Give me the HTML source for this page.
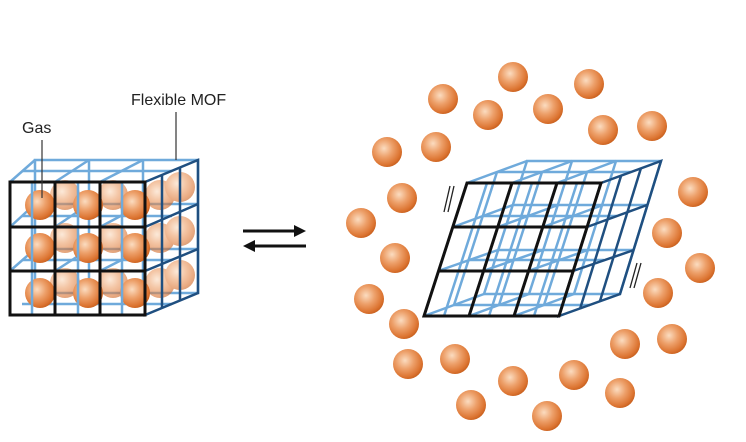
<!DOCTYPE html>
<html><head><meta charset="utf-8"><style>
html,body{margin:0;padding:0;background:#fff;width:746px;height:442px;overflow:hidden}
svg{display:block}
text{font-family:"Liberation Sans",sans-serif;font-size:16px;fill:#222}
</style></head><body>
<svg width="746" height="442" viewBox="0 0 746 442" xmlns="http://www.w3.org/2000/svg">
<defs>
<radialGradient id="g" cx="0.4" cy="0.38" r="0.65">
<stop offset="0" stop-color="#fbdcc0"/>
<stop offset="0.45" stop-color="#eda06a"/>
<stop offset="0.85" stop-color="#dc7431"/>
<stop offset="1" stop-color="#c9611f"/>
</radialGradient>
<symbol id="s" viewBox="-15 -15 30 30" overflow="visible"><circle r="15" fill="url(#g)"/></symbol>
</defs>

<!-- LEFT CUBE -->
<g fill="none" stroke="#6faadb" stroke-width="2.5">
  <rect x="35" y="160" width="163" height="133"/>
  <line x1="89" y1="160" x2="89" y2="293"/><line x1="143" y1="160" x2="143" y2="293"/>
  <line x1="35" y1="204" x2="198" y2="204"/><line x1="35" y1="249" x2="198" y2="249"/>
  <line x1="10" y1="182" x2="35" y2="160"/><line x1="55" y1="182" x2="89" y2="160"/><line x1="100" y1="182" x2="143" y2="160"/>
  <line x1="22" y1="171" x2="172" y2="171"/>
  <line x1="10" y1="227" x2="35" y2="204"/><line x1="55" y1="227" x2="89" y2="204"/><line x1="100" y1="227" x2="143" y2="204"/>
  <line x1="22" y1="216" x2="172" y2="216"/>
  <line x1="10" y1="271" x2="35" y2="249"/><line x1="55" y1="271" x2="89" y2="249"/><line x1="100" y1="271" x2="143" y2="249"/>
  <line x1="22" y1="260" x2="172" y2="260"/>
  <line x1="22" y1="304" x2="172" y2="304"/>
</g>
<g opacity="0.6">
<use href="#s" x="50" y="180" width="30" height="30"/><use href="#s" x="98" y="180" width="30" height="30"/><use href="#s" x="145" y="180" width="30" height="30"/>
<use href="#s" x="50" y="223" width="30" height="30"/><use href="#s" x="98" y="223" width="30" height="30"/><use href="#s" x="145" y="223" width="30" height="30"/>
<use href="#s" x="50" y="268" width="30" height="30"/><use href="#s" x="98" y="268" width="30" height="30"/><use href="#s" x="145" y="268" width="30" height="30"/>
<use href="#s" x="165" y="172" width="30" height="30"/><use href="#s" x="165" y="216" width="30" height="30"/><use href="#s" x="165" y="260" width="30" height="30"/>
</g>
<g>
<use href="#s" x="25" y="190" width="30" height="30"/><use href="#s" x="73" y="190" width="30" height="30"/><use href="#s" x="120" y="190" width="30" height="30"/>
<use href="#s" x="25" y="233" width="30" height="30"/><use href="#s" x="73" y="233" width="30" height="30"/><use href="#s" x="120" y="233" width="30" height="30"/>
<use href="#s" x="25" y="278" width="30" height="30"/><use href="#s" x="73" y="278" width="30" height="30"/><use href="#s" x="120" y="278" width="30" height="30"/>
</g>
<g fill="none" stroke="#6faadb" stroke-width="2.5">
  <line x1="32" y1="182" x2="32" y2="315"/><line x1="78" y1="182" x2="78" y2="315"/><line x1="122" y1="182" x2="122" y2="315"/>
</g>
<g fill="none" stroke="#1f4f80" stroke-width="2.5">
  <polygon points="145,182 198,160 198,293 145,315"/>
  <line x1="162" y1="175" x2="162" y2="308"/><line x1="180" y1="168" x2="180" y2="300"/>
  <line x1="145" y1="227" x2="198" y2="204"/><line x1="145" y1="271" x2="198" y2="249"/>
</g>
<g fill="none" stroke="#111" stroke-width="3">
  <rect x="10" y="182" width="135" height="133"/>
  <line x1="55" y1="182" x2="55" y2="315"/><line x1="100" y1="182" x2="100" y2="315"/>
  <line x1="10" y1="227" x2="145" y2="227"/><line x1="10" y1="271" x2="145" y2="271"/>
</g>
<line x1="42" y1="140" x2="42" y2="198" stroke="#333" stroke-width="1.2"/>
<line x1="176" y1="112" x2="176" y2="160" stroke="#333" stroke-width="1.2"/>
<text x="22" y="133">Gas</text>
<text x="131" y="105">Flexible MOF</text>

<g stroke="#111" stroke-width="3">
<line x1="243" y1="231" x2="296" y2="231"/><line x1="252" y1="246" x2="306" y2="246"/>
</g>
<polygon points="306,231 294,225 294,237" fill="#111"/>
<polygon points="243,246 255,240 255,252" fill="#111"/>

<!-- RIGHT CUBE -->
<g fill="none" stroke="#6faadb" stroke-width="2.5">
  <polygon points="527,161 661,161 620,294 484,294"/>
  <line x1="572" y1="161" x2="529" y2="294"/><line x1="616" y1="161" x2="574" y2="294"/>
  <line x1="513" y1="205" x2="647" y2="205"/><line x1="498" y1="250" x2="634" y2="250"/>
  <line x1="467" y1="183" x2="527" y2="161"/><line x1="512" y1="183" x2="572" y2="161"/><line x1="557" y1="183" x2="616" y2="161"/>
  <line x1="453" y1="227" x2="513" y2="205"/><line x1="498" y1="227" x2="558" y2="205"/><line x1="543" y1="227" x2="603" y2="205"/>
  <line x1="438" y1="271" x2="498" y2="250"/><line x1="483" y1="271" x2="543" y2="250"/><line x1="528" y1="271" x2="588" y2="250"/>
  <line x1="424" y1="316" x2="484" y2="294"/><line x1="469" y1="316" x2="529" y2="294"/><line x1="514" y1="316" x2="574" y2="294"/>
  <line x1="497" y1="172" x2="631" y2="172"/><line x1="483" y1="216" x2="617" y2="216"/><line x1="468" y1="260" x2="604" y2="260"/><line x1="454" y1="305" x2="590" y2="305"/>
  <line x1="487" y1="183" x2="444" y2="316"/><line x1="532" y1="183" x2="489" y2="316"/><line x1="577" y1="183" x2="534" y2="316"/>
  <line x1="497" y1="172" x2="454" y2="305"/><line x1="542" y1="172" x2="499" y2="305"/><line x1="587" y1="172" x2="544" y2="305"/>
</g>
<g fill="none" stroke="#1f4f80" stroke-width="2.5">
  <polygon points="601,183 661,161 620,294 559,316"/>
  <line x1="621" y1="176" x2="580" y2="309"/><line x1="641" y1="168" x2="600" y2="301"/>
  <line x1="587" y1="227" x2="647" y2="205"/><line x1="573" y1="271" x2="634" y2="250"/>
</g>
<g fill="none" stroke="#111" stroke-width="3">
  <polygon points="467,183 601,183 559,316 424,316"/>
  <line x1="512" y1="183" x2="469" y2="316"/><line x1="557" y1="183" x2="514" y2="316"/>
  <line x1="453" y1="227" x2="587" y2="227"/><line x1="438" y1="271" x2="573" y2="271"/>
</g>
<g stroke="#222" stroke-width="1.3">
  <line x1="450" y1="186" x2="444" y2="212"/><line x1="454" y1="186" x2="448" y2="212"/>
  <line x1="637" y1="263" x2="630" y2="288"/><line x1="641" y1="263" x2="634" y2="288"/>
</g>

<g>
<use href="#s" x="498" y="62" width="30" height="30"/>
<use href="#s" x="574" y="69" width="30" height="30"/>
<use href="#s" x="428" y="84" width="30" height="30"/>
<use href="#s" x="473" y="100" width="30" height="30"/>
<use href="#s" x="533" y="94" width="30" height="30"/>
<use href="#s" x="588" y="115" width="30" height="30"/>
<use href="#s" x="637" y="111" width="30" height="30"/>
<use href="#s" x="372" y="137" width="30" height="30"/>
<use href="#s" x="421" y="132" width="30" height="30"/>
<use href="#s" x="387" y="183" width="30" height="30"/>
<use href="#s" x="678" y="177" width="30" height="30"/>
<use href="#s" x="346" y="208" width="30" height="30"/>
<use href="#s" x="652" y="218" width="30" height="30"/>
<use href="#s" x="380" y="243" width="30" height="30"/>
<use href="#s" x="685" y="253" width="30" height="30"/>
<use href="#s" x="354" y="284" width="30" height="30"/>
<use href="#s" x="643" y="278" width="30" height="30"/>
<use href="#s" x="389" y="309" width="30" height="30"/>
<use href="#s" x="657" y="324" width="30" height="30"/>
<use href="#s" x="610" y="329" width="30" height="30"/>
<use href="#s" x="440" y="344" width="30" height="30"/>
<use href="#s" x="393" y="349" width="30" height="30"/>
<use href="#s" x="498" y="366" width="30" height="30"/>
<use href="#s" x="559" y="360" width="30" height="30"/>
<use href="#s" x="605" y="378" width="30" height="30"/>
<use href="#s" x="456" y="390" width="30" height="30"/>
<use href="#s" x="532" y="401" width="30" height="30"/>
</g>
</svg>
</body></html>
